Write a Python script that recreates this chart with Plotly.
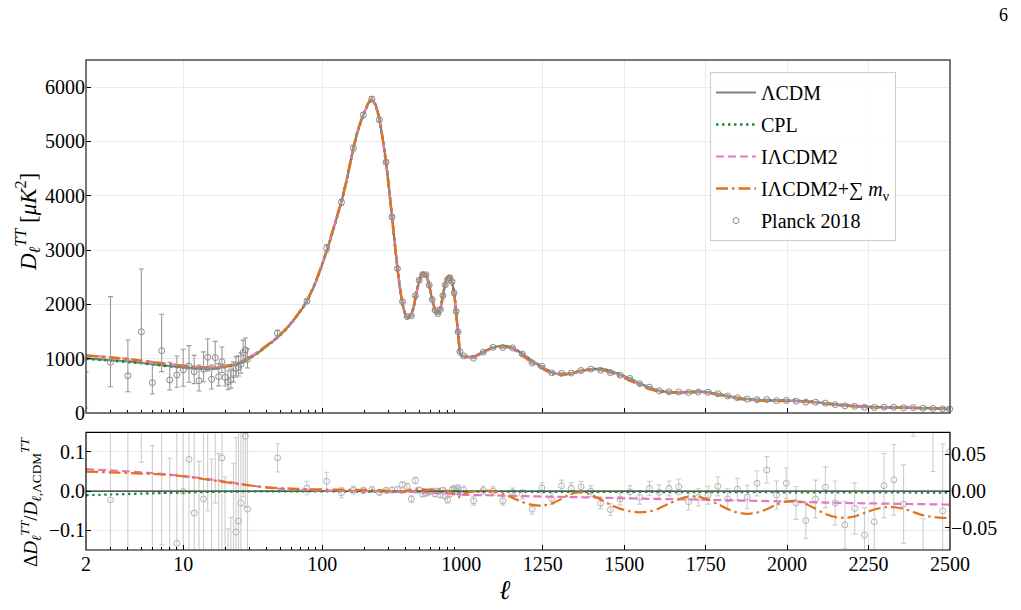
import numpy as np
import plotly.graph_objects as go

# ---------------- data ----------------
ell = [2,3,4,5,6,7,8,10,12,14,
       16,18,22,26,30,35,40,47,55,65,
       77,90,107,120,137,150,167,180,197,210,
       220,228,240,257,270,287,300,318,333,348,
       363,378,395,410,425,440,455,470,485,500,
       520,537,555,570,585,600,620,640,660,677,
       695,712,730,750,770,790,812,840,860,880,
       900,915,928,940,952,965,976,990,1010,1037,
       1066,1096,1127,1155,1185,1216,1247,1277,1305,1336,
       1364,1395,1425,1454,1485,1515,1546,1576,1604,1635,
       1666,1696,1727,1753,1785,1814,1845,1875,1906,1937,
       1968,1998,2029,2056,2087,2117,2148,2178,2209,2240,
       2270,2301,2332,2362,2387,2416,2448,2479,2500]

D_lcdm = [1007,975,948,922,900,880,864,840,825,815,
          815,830,865,925,1010,1120,1235,1375,1545,1770,
          2045,2420,2960,3380,3880,4290,4860,5190,5480,5650,
          5740,5755,5690,5420,5100,4630,4210,3600,3110,2650,
          2290,2015,1820,1755,1765,1830,1960,2140,2310,2440,
          2550,2580,2555,2480,2375,2245,2075,1935,1850,1830,
          1860,1950,2090,2265,2405,2495,2525,2490,2400,2270,
          2090,1890,1730,1575,1420,1265,1145,1075,1045,1037,
          1115,1205,1235,1205,1100,965,855,752,718,730,
          772,808,812,780,713,638,548,473,413,388,
          382,388,392,385,352,318,283,258,242,236,
          230,228,226,216,202,180,160,143,129,117,
          110,105,103,99,97,92,86,80,76]

res_cpl = [-0.0103,-0.0085,-0.0072,-0.0062,-0.0055,-0.0048,-0.0043,-0.0035,-0.0028,-0.0023,
           -0.0019,-0.0016,-0.0012,-0.0009,-0.0007,-0.0006,-0.0005,-0.0005,-0.0005,-0.0006,
           -0.0007,-0.0008,-0.0008,-0.0009,-0.0009,-0.0009,-0.001,-0.001,-0.001,-0.001,
           -0.001,-0.001,-0.001,-0.001,-0.001,-0.001,-0.001,-0.001,-0.001,-0.001,
           -0.001,-0.001,-0.001,-0.001,-0.001,-0.001,-0.001,-0.001,-0.001,-0.001,
           -0.001,-0.001,-0.001,-0.001,-0.001,-0.001,-0.001,-0.001,-0.001,-0.001,
           -0.0011,-0.0011,-0.0011,-0.0011,-0.0011,-0.0011,-0.0011,-0.0011,-0.0011,-0.0011,
           -0.0012,-0.0012,-0.0012,-0.0012,-0.0012,-0.0012,-0.0012,-0.0012,-0.0012,-0.0012,
           -0.0013,-0.0014,-0.0014,-0.0015,-0.0015,-0.0016,-0.0016,-0.0017,-0.0017,-0.0018,
           -0.0018,-0.0019,-0.0019,-0.002,-0.002,-0.0021,-0.0021,-0.0022,-0.0022,-0.0023,
           -0.0023,-0.0024,-0.0024,-0.0025,-0.0025,-0.0026,-0.0026,-0.0027,-0.0027,-0.0028,
           -0.0028,-0.0029,-0.0029,-0.003,-0.003,-0.0031,-0.0031,-0.0032,-0.0032,-0.0033,
           -0.0033,-0.0034,-0.0034,-0.0035,-0.0035,-0.0036,-0.0036,-0.0037,-0.0037]

res_i2 = [0.056,0.053,0.0505,0.048,0.0458,0.0438,0.042,0.0385,0.0352,0.032,
          0.0292,0.0266,0.0222,0.0182,0.0148,0.0115,0.009,0.0068,0.0052,0.004,
          0.003,0.0022,0.0015,0.0012,0.0009,0.0007,0.0005,0.0004,0.0002,0.0001,
          0.0,-0.0001,-0.0002,-0.0004,-0.0005,-0.0007,-0.0008,-0.001,-0.0011,-0.0013,
          -0.0014,-0.0016,-0.0018,-0.0019,-0.0021,-0.0022,-0.0024,-0.0026,-0.0028,-0.003,
          -0.0032,-0.0034,-0.0036,-0.0037,-0.0039,-0.004,-0.0042,-0.0044,-0.0046,-0.0048,
          -0.005,-0.0052,-0.0054,-0.0056,-0.0058,-0.006,-0.0063,-0.0066,-0.0069,-0.0072,
          -0.0075,-0.0077,-0.0079,-0.0081,-0.0083,-0.0085,-0.0087,-0.009,-0.0093,-0.0097,
          -0.0102,-0.0108,-0.0114,-0.012,-0.0126,-0.0132,-0.0138,-0.0143,-0.0147,-0.0151,
          -0.0155,-0.016,-0.0166,-0.0172,-0.0178,-0.0184,-0.019,-0.0195,-0.0199,-0.0202,
          -0.0206,-0.021,-0.0215,-0.022,-0.0225,-0.023,-0.0236,-0.0242,-0.0247,-0.0252,
          -0.0258,-0.0265,-0.0272,-0.0278,-0.0284,-0.029,-0.0296,-0.0302,-0.0306,-0.031,
          -0.0314,-0.0318,-0.0322,-0.0326,-0.0329,-0.0332,-0.0336,-0.034,-0.0342]

res_i2nu = [0.050,0.0478,0.0462,0.0448,0.0438,0.0425,0.041,0.038,0.0345,0.031,
            0.028,0.0255,0.021,0.0175,0.0145,0.0118,0.0098,0.0082,0.007,0.006,
            0.0052,0.0046,0.0042,0.004,0.0038,0.0036,0.0035,0.0034,0.0033,0.0032,
            0.0031,0.003,0.0028,0.0024,0.002,0.0012,0.0005,-0.0008,-0.002,-0.003,
            -0.0035,-0.003,-0.001,0.001,0.003,0.0045,0.0055,0.006,0.0062,0.006,
            0.0052,0.0045,0.004,0.0035,0.003,0.003,0.003,0.0032,0.0035,0.0036,
            0.0036,0.0034,0.003,0.0025,0.0018,0.001,0.0,-0.002,-0.004,-0.007,
            -0.01,-0.013,-0.015,-0.016,-0.016,-0.015,-0.013,-0.01,-0.006,-0.001,
            0.002,0.0,-0.006,-0.016,-0.027,-0.035,-0.037,-0.032,-0.021,-0.007,
            -0.003,-0.008,-0.02,-0.033,-0.044,-0.051,-0.054,-0.052,-0.045,-0.033,
            -0.021,-0.014,-0.014,-0.02,-0.032,-0.044,-0.054,-0.058,-0.055,-0.046,
            -0.034,-0.026,-0.025,-0.032,-0.045,-0.058,-0.066,-0.068,-0.064,-0.055,
            -0.046,-0.041,-0.041,-0.046,-0.053,-0.061,-0.066,-0.068,-0.068]

# Planck 2018 low-ell (unbinned) points
low_ell = [2,3,4,5,6,7,8,9,10,11,12,13,14,15,16,17,18,19,20,21,22,23,24,25,26,27,28,29]
low_D = [225,934,687,1497,558,1147,608,700,792,866,761,595,805,1026,621,1019,669,945,657,577,
         608,731,823,841,897,1111,1160,989]
low_up = [536,1208,657,1155,357,671,326,350,381,374,300,290,320,340,260,300,240,270,220,200,
          200,210,215,210,210,230,220,200]
low_dn = [132,450,295,582,208,386,184,227,300,300,220,190,230,250,180,220,170,200,160,150,
          150,160,165,160,165,180,175,160]
low_res = [-0.777,-0.022,-0.275,0.624,-0.38,0.303,-0.296,-0.133,-0.001,0.081,-0.056,-0.274,-0.020,0.26,
           -0.238,0.24,-0.194,0.085,-0.224,-0.326,-0.297,-0.169,-0.104,-0.076,-0.03,0.176,0.14,-0.046]
low_res_up = [0.532,1.24,0.69,1.25,0.496,0.76,0.38,0.41,0.45,0.45,0.36,0.35,0.39,0.42,
              0.32,0.36,0.29,0.32,0.26,0.23,0.23,0.24,0.24,0.23,0.23,0.24,0.23,0.2]
low_res_dn = [0.131,0.46,0.31,0.55,0.23,0.44,0.21,0.27,0.47,0.36,0.27,0.23,0.28,0.31,
              0.22,0.27,0.2,0.24,0.19,0.18,0.17,0.18,0.18,0.18,0.18,0.19,0.18,0.16]

# Planck 2018 binned high-ell points
bin_ell = [47.7,77.6,107.5,137.5,167.5,197.5,227.5,257.5,287.5,317.5,
           347.5,377.5,407.5,437.5,467.5,497.5,527.5,557.5,587.5,617.5,
           647.5,677.5,707.5,737.5,767.5,797.5,827.5,857.5,887.5,917.5,
           947.5,977.5,1007.5,1037.5,1067.5,1097.5,1127.5,1157.5,1187.5,1217.5,
           1247.5,1277.5,1307.5,1337.5,1367.5,1397.5,1427.5,1457.5,1487.5,1517.5,
           1547.5,1577.5,1607.5,1637.5,1667.5,1697.5,1727.5,1757.5,1787.5,1817.5,
           1847.5,1877.5,1907.5,1937.5,1967.5,1997.5,2027.5,2057.5,2087.5,2117.5,
           2147.5,2177.5,2207.5,2237.5,2267.5,2297.5,2327.5,2357.5,2387.5,2417.5,
           2447.5,2477.5,2499.0]
bin_D = [1470,2060,3030,3880,4880,5490,5780,5400,4620,3610,
         2660,2050,1775,1790,2160,2445,2550,2545,2355,2090,
         1895,1830,1905,2160,2360,2455,2490,2420,2210,1870,
         1495,1130,1050,1010,1120,1210,1205,1200,1085,920,
         860,740,728,735,782,808,787,743,697,637,
         540,476,410,391,386,378,386,380,355,312,
         282,256,245,248,228,231,219,200,198,182,
         155,131,123,104,101,107,106,96,100,88,
         83,76,72]
bin_res = [0.085,0.008,0.025,-0.004,0.003,0.002,0.004,-0.003,0.002,0.003,
           0.004,0.016,0.012,-0.020,0.027,0.003,-0.007,-0.005,-0.002,0.0,
           -0.007,0.0,-0.010,0.002,-0.013,-0.022,-0.007,0.003,0.006,0.0,
           0.007,0.001,0.003,-0.025,0.002,0.0,-0.025,-0.003,-0.008,-0.046,
           0.008,-0.019,0.014,0.007,0.011,0.0,-0.031,-0.047,-0.020,-0.002,
           -0.016,0.007,-0.003,0.007,0.011,-0.027,-0.016,-0.01,0.012,-0.02,
           0.005,-0.015,0.02,0.054,-0.01,0.02,-0.03,-0.075,-0.02,0.01,
           -0.03,-0.086,-0.044,-0.112,-0.078,0.014,0.029,-0.033,0.25,-0.2,
           0.2,-0.05,0.1]
bin_err = [0.036,0.017,0.023,0.013,0.010,0.008,0.007,0.007,0.007,0.007,
           0.008,0.008,0.008,0.008,0.008,0.007,0.007,0.007,0.007,0.007,
           0.007,0.007,0.007,0.007,0.007,0.008,0.008,0.008,0.008,0.008,
           0.009,0.010,0.010,0.011,0.011,0.011,0.011,0.011,0.012,0.013,
           0.013,0.014,0.014,0.014,0.014,0.014,0.014,0.015,0.015,0.016,
           0.017,0.018,0.019,0.019,0.020,0.021,0.022,0.023,0.024,0.026,
           0.028,0.030,0.032,0.034,0.036,0.039,0.042,0.045,0.048,0.052,
           0.056,0.060,0.065,0.070,0.076,0.082,0.09,0.10,0.11,0.13,
           0.15,0.17,0.2]

# ---------------- derived tables ----------------
Dl = np.array(D_lcdm, float)
models = [
    ("ΛCDM", np.zeros_like(Dl), dict(color="#7f7f7f", width=2.2, dash="solid")),
    ("CPL", np.array(res_cpl), dict(color="#138d3b", width=2.6, dash="2.5px,3.5px")),
    ("IΛCDM2", np.array(res_i2), dict(color="#e377c2", width=2.2, dash="8px,4px")),
    ("IΛCDM2+∑ <i>m</i><sub>ν</sub>", np.array(res_i2nu), dict(color="#e1731d", width=2.4, dash="12px,4px,2.5px,4px")),
]
bin_ell_a = np.array(bin_ell); bin_D_a = np.array(bin_D, float)
bin_res_a = np.array(bin_res); bin_err_a = np.array(bin_err)
bin_top_err = bin_err_a * bin_D_a
lo = bin_ell_a < 1000
hi = ~lo

# ---------------- geometry ----------------
W, H = 1021, 610
ML, MR, MT, MB = 86, 71, 60, 60
PW, PH = W - ML - MR, H - MT - MB
split = 375.3 / PW
top_dom = [(H - MB - 413) / PH, 1.0]
bot_dom = [0.0, (H - MB - 432.3) / PH]

FONT = "Liberation Serif"
fig = go.Figure()

pt_col = "#8a8a8a"
pt_col_b = "#b3b3b3"
err_col = "#9a9a9a"
err_col_b = "#cdcdcd"

for name, res, st in models:
    y = Dl * (1 + res)
    for xa, show in (("x", True), ("x2", False)):
        fig.add_trace(go.Scatter(x=ell, y=y, mode="lines", line=dict(shape="spline", smoothing=0.6, **st),
                                 name=name, legendgroup=name, showlegend=show, xaxis=xa, yaxis="y",
                                 hoverinfo="skip"))
fig.add_trace(go.Scatter(x=low_ell, y=low_D, mode="markers", xaxis="x", yaxis="y",
                         marker=dict(symbol="circle-open", size=6, color=pt_col, line=dict(width=1)),
                         error_y=dict(type="data", array=low_up, arrayminus=low_dn, color=err_col, thickness=1.1, width=2.5),
                         name="Planck 2018", legendgroup="planck", showlegend=True, cliponaxis=True))
fig.add_trace(go.Scatter(x=bin_ell_a[lo], y=bin_D_a[lo], mode="markers", xaxis="x", yaxis="y",
                         marker=dict(symbol="circle-open", size=6, color=pt_col, line=dict(width=1)),
                         error_y=dict(type="data", array=bin_top_err[lo], color=err_col, thickness=1.1, width=2.5),
                         legendgroup="planck", showlegend=False, cliponaxis=False))
fig.add_trace(go.Scatter(x=bin_ell_a[hi], y=bin_D_a[hi], mode="markers", xaxis="x2", yaxis="y",
                         marker=dict(symbol="circle-open", size=6, color=pt_col, line=dict(width=1)),
                         error_y=dict(type="data", array=bin_top_err[hi], color=err_col, thickness=1.1, width=2.5),
                         legendgroup="planck", showlegend=False, cliponaxis=False))

fig.add_trace(go.Scatter(x=low_ell, y=low_res, mode="markers", xaxis="x3", yaxis="y2",
                         marker=dict(symbol="circle-open", size=6, color=pt_col_b, line=dict(width=1)),
                         error_y=dict(type="data", array=low_res_up, arrayminus=low_res_dn, color=err_col_b, thickness=1.1, width=2.5),
                         showlegend=False, cliponaxis=True))
fig.add_trace(go.Scatter(x=bin_ell_a[lo], y=bin_res_a[lo], mode="markers", xaxis="x3", yaxis="y2",
                         marker=dict(symbol="circle-open", size=6, color=pt_col_b, line=dict(width=1)),
                         error_y=dict(type="data", array=bin_err_a[lo], color=err_col_b, thickness=1.1, width=2.5),
                         showlegend=False, cliponaxis=True))
fig.add_trace(go.Scatter(x=bin_ell_a[hi], y=bin_res_a[hi], mode="markers", xaxis="x4", yaxis="y2",
                         marker=dict(symbol="circle-open", size=6, color=pt_col_b, line=dict(width=1)),
                         error_y=dict(type="data", array=bin_err_a[hi], color=err_col_b, thickness=1.1, width=2.5),
                         showlegend=False, cliponaxis=True))

for name, res, st in models:
    st2 = dict(st)
    if name == "ΛCDM":
        st2 = dict(color="#222222", width=1.2, dash="solid")
    else:
        st2["width"] = 2.2
    for xa in ("x3", "x4"):
        fig.add_trace(go.Scatter(x=ell, y=res, mode="lines", line=dict(shape="spline", smoothing=0.6, **st2),
                                 showlegend=False, xaxis=xa, yaxis="y2", hoverinfo="skip"))

fig.add_trace(go.Scatter(x=[1500], y=[0], xaxis="x4", yaxis="y3", mode="markers",
                         marker=dict(opacity=0), showlegend=False, hoverinfo="skip"))

tickfont = dict(family=FONT, size=20, color="black")
axc = dict(showline=False, zeroline=False, ticks="inside", tickcolor="black", ticklen=5, tickwidth=1,
           showgrid=True, gridcolor="#ebebeb", gridwidth=1, tickfont=tickfont)
minor_log = [m * d for d in (1, 10, 100) for m in range(2, 10) if 2 < m * d < 1000]
lin_ticks = [1000, 1250, 1500, 1750, 2000, 2250, 2500]

fig.update_layout(
    width=W, height=H, margin=dict(l=ML, r=MR, t=MT, b=MB),
    paper_bgcolor="white", plot_bgcolor="white",
    font=dict(family=FONT, size=20, color="black"),
    xaxis=dict(axc, type="log", range=[np.log10(2), 3], domain=[0, split], anchor="y",
               tickvals=[10, 100, 1000], showticklabels=False,
               minor=dict(tickvals=minor_log, ticks="inside", ticklen=3, tickcolor="black", showgrid=False)),
    xaxis2=dict(axc, range=[1000, 2500], domain=[split, 1], anchor="y", tickvals=lin_ticks, showticklabels=False),
    yaxis=dict(axc, range=[0, 6500], domain=top_dom, anchor="x", tickvals=[0, 1000, 2000, 3000, 4000, 5000, 6000]),
    xaxis3=dict(axc, type="log", range=[np.log10(2) - 1e-7, 3], domain=[0, split], anchor="y2",
                tickvals=[2, 10, 100], ticktext=["2", "10", "100"],
                minor=dict(tickvals=minor_log, ticks="inside", ticklen=3, tickcolor="black", showgrid=False)),
    xaxis4=dict(axc, range=[1000, 2500 + 1e-4], domain=[split, 1], anchor="y2", tickvals=lin_ticks,
                ticktext=[str(t) for t in lin_ticks]),
    yaxis2=dict(axc, range=[-0.15, 0.15], domain=bot_dom, anchor="x3", tickvals=[-0.1, 0, 0.1],
                ticktext=["−0.1", "0.0", "0.1"]),
    yaxis3=dict(axc, range=[-0.08, 0.08], overlaying="y2", side="right", anchor="x4", showgrid=False,
                tickvals=[-0.05, 0, 0.05], ticktext=["−0.05", "0.00", "0.05"]),
    legend=dict(x=(710 - ML) / PW, y=(H - MB - 72) / PH, xanchor="left", yanchor="top",
                bgcolor="rgba(255,255,255,0.9)", bordercolor="#cccccc", borderwidth=1,
                font=dict(family=FONT, size=20, color="black"), tracegroupgap=3, itemwidth=40),
    showlegend=True,
)

fig.add_shape(type="rect", xref="paper", yref="paper", x0=0, x1=1, y0=top_dom[0], y1=1,
              line=dict(color="#4a4a4a", width=1.5), layer="above")
fig.add_shape(type="rect", xref="paper", yref="paper", x0=0, x1=1, y0=0, y1=bot_dom[1],
              line=dict(color="black", width=1.2), layer="above")

def px(xp):
    return (xp - ML) / PW
def py(yp):
    return (H - MB - yp) / PH

ann = dict(xref="paper", yref="paper", showarrow=False, xanchor="center", yanchor="middle")
fig.add_annotation(text="6", x=px(1003), y=py(15), font=dict(family=FONT, size=18), **ann)
fig.add_annotation(text="<i>ℓ</i>", x=px(505), y=py(590), font=dict(family=FONT, size=27), **ann)
fig.add_annotation(text="<i>D</i><sub><i>ℓ</i></sub><sup><i>TT</i></sup> [<i>μK</i><sup>2</sup>]",
                   x=px(28), y=py(222), textangle=-90, font=dict(family=FONT, size=23), **ann)
fig.add_annotation(text="Δ<i>D</i><sub><i>ℓ</i></sub><sup><i>TT</i></sup>/<i>D</i><sub><i>ℓ</i>,ΛCDM</sub><sup><i>TT</i></sup>",
                   x=px(30), y=py(502), textangle=-90, font=dict(family=FONT, size=19), **ann)

fig.write_html("out.html")
